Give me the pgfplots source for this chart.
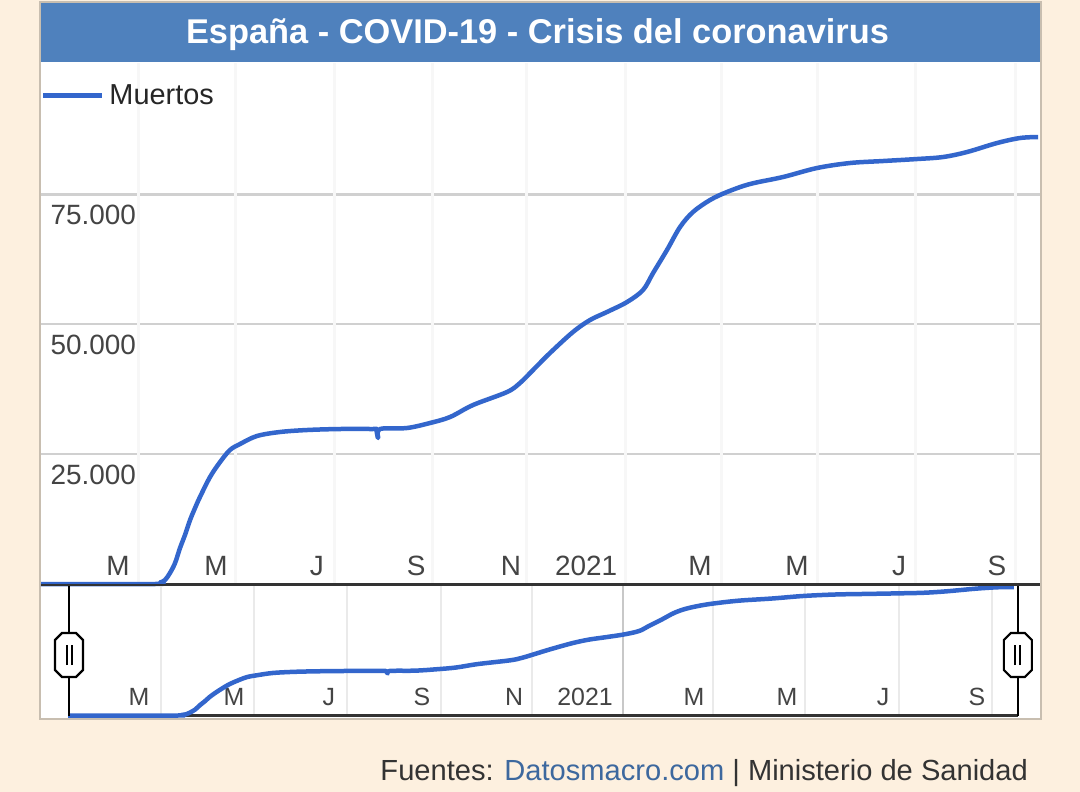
\documentclass[border=0pt]{standalone}
\usepackage{fontspec}
\setmainfont{Liberation Sans}
\usepackage{pgfplots}
\pgfplotsset{compat=1.18}
\usepackage{pgfplotstable}
\definecolor{cream}{RGB}{253,240,223}
\definecolor{panelborder}{RGB}{200,190,176}
\definecolor{titleblue}{RGB}{79,129,189}
\definecolor{lineblue}{RGB}{51,102,204}
\definecolor{hgrid}{RGB}{208,208,208}
\definecolor{vgrid}{RGB}{247,247,247}
\definecolor{navgrid}{RGB}{234,234,234}
\definecolor{navyear}{RGB}{200,200,200}
\definecolor{txtgray}{RGB}{68,68,68}
\definecolor{linkblue}{RGB}{61,104,158}
\newcommand\fs[1]{\fontsize{#1}{#1}\selectfont}

\pgfplotstableread{
d v
-61.4 0
10.0 0
13.2 289
16.3 770
19.4 2117
22.6 4041
25.7 6928
28.8 9430
32.0 12317
35.1 14626
38.2 16743
44.5 20592
50.8 23479
57.0 25788
63.3 26943
73.9 28483
88.3 29252
105.3 29637
125.9 29830
146.6 29830
148.5 29830
149.8 28098
151.0 29830
167.9 30022
182.3 30984
194.9 32139
209.3 34449
230.6 36950
238.7 38683
246.9 41185
257.5 44456
271.9 48497
282.6 50807
293.2 52346
305.8 54271
315.8 56580
322.1 59852
330.8 64278
339.0 68705
347.1 71591
357.8 73901
368.4 75440
382.8 76980
403.5 78327
424.8 80059
445.5 81022
466.2 81406
487.5 81791
503.8 82176
518.8 83138
537.6 84870
552.0 85833
563.3 86025
}\deaths

\newcommand\handle[1]{%
  \draw[black, line width=2.5bp] (axis cs:#1,0) -- ++(0bp,129.5bp);
  \begin{scope}[shift={(axis cs:#1,0)}]
    \draw[black, fill=white, line width=2.2bp]
      (-14bp,45.5bp) -- (-14bp,75.5bp) -- (-7bp,82.5bp) -- (7bp,82.5bp)
      -- (14bp,75.5bp) -- (14bp,45.5bp) -- (7bp,38.5bp) -- (-7bp,38.5bp) -- cycle;
    \draw[black, line width=2bp] (-2.5bp,50.5bp) -- (-2.5bp,70.5bp);
    \draw[black, line width=2bp] (2.5bp,50.5bp) -- (2.5bp,70.5bp);
  \end{scope}
}

\begin{document}
\begin{tikzpicture}
\fill[cream] (0,0) rectangle (1080bp,-792bp);
\filldraw[fill=white, draw=panelborder, line width=2.5bp] (40bp,-2bp) rectangle (1041bp,-719bp);
\fill[titleblue] (41bp,-3bp) rectangle (1040bp,-62bp);
\node[anchor=base, text=white, font=\bfseries\fs{34.5}, inner sep=0pt] at (537.5bp,-43.3bp) {España - COVID-19 - Crisis del coronavirus};

% main chart
\begin{axis}[
  at={(41bp,-584bp)}, anchor=south west,
  scale only axis, width=999bp, height=521bp,
  xmin=-61.4, xmax=564.5, ymin=0, ymax=100270,
  clip=false,
  scaled y ticks=false,
  axis line style={draw=none},
  major tick length=0pt,
  ytick={25000,50000,75000},
  yticklabels={25.000,50.000,75.000},
  ymajorgrids=true,
  y grid style={draw=hgrid, line width=2.5bp},
  yticklabel style={anchor=north west, xshift=6bp, yshift=-7.5bp, font=\fs{28}, text=txtgray},
  xtick={-13.2,48.2,111.5,173.6,233.1,280.1,351.5,412.3,476.2,537.6},
  xticklabels={M,M,J,S,N,2021,M,M,J,S},
  xticklabel style={anchor=base, yshift=9bp, font=\fs{28}, text=txtgray},
  extra x ticks={0,60.2,122.8,183.6,243.1,305.1,364.7,425.4,486.2,548.9},
  extra x tick labels={},
  extra x tick style={grid=major, major grid style={draw=vgrid, line width=3bp}},
  legend style={at={(0,1)}, anchor=north west, draw=none, fill=none,
    inner sep=0pt, outer sep=0pt, yshift=-20bp, font=\fs{29},
    text=black!85},
  legend cell align=left,
  legend image code/.code={\draw[#1, line width=4.5bp] (0bp,0bp) -- (59bp,0bp); \path (62bp,0bp);},
]
\draw[black!80, line width=2.5bp] (axis cs:-61.4,0) -- (axis cs:564.5,0);
\addplot[lineblue, line width=4.5bp, line join=round, smooth, tension=0.55] table[x=d,y=v] {\deaths};
\addlegendentry{Muertos}
\end{axis}

% navigator
\begin{axis}[
  at={(41bp,-715.5bp)}, anchor=south west,
  scale only axis, width=999bp, height=129.5bp,
  xmin=-79.3, xmax=580.6, ymin=0, ymax=86700,
  clip=false,
  scaled y ticks=false,
  axis line style={draw=none},
  major tick length=0pt,
  ytick=\empty,
  xtick={-14.5,48.2,110.9,172.4,233.2,280.1,352.0,413.5,476.9,538.9},
  xticklabels={M,M,J,S,N,2021,M,M,J,S},
  xticklabel style={anchor=base, yshift=10.5bp, font=\fs{25}, text=txtgray},
  extra x ticks={0,61.4,122.9,184.9,245.0,364.6,425.4,487.5,548.9},
  extra x tick labels={},
  extra x tick style={grid=major, major grid style={draw=navgrid, line width=2.5bp}},
]
\draw[navyear, line width=2.5bp] (axis cs:305.2,0) -- (axis cs:305.2,86700);
\draw[black!80, line width=2.5bp] (axis cs:-60.8,0) -- (axis cs:566,0);
\addplot[lineblue, line width=4.5bp, line join=round, smooth, tension=0.55] table[x=d,y=v] {\deaths};
\handle{-60.8}
\handle{566}
\end{axis}

\draw[black!80, line width=2.5bp] (41bp,-585bp) -- (1040bp,-585bp);

\node[anchor=base east, inner sep=0pt, font=\fs{29.2}, text=black!80] at (1028bp,-780bp)
  {Fuentes: {\color{linkblue}Datosmacro.com} | Ministerio de Sanidad};
\end{tikzpicture}
\end{document}
